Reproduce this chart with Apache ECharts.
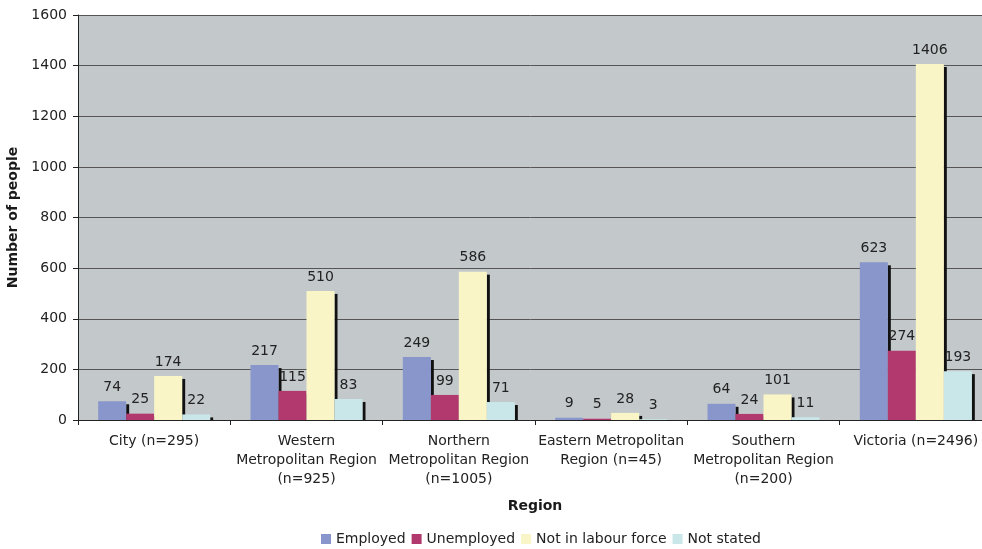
<!DOCTYPE html>
<html>
<head>
<meta charset="utf-8">
<script src="https://cdn.jsdelivr.net/npm/echarts@6/dist/echarts.min.js"></script>
<style>
  html, body { margin: 0; padding: 0; background: #fff; }
  #chart { width: 982px; height: 549px; }
</style>
</head>
<body>
<div id="chart"></div>
<script>
// Labour force status of people by region
const regions = [
  'City (n=295)',
  'Western\nMetropolitan Region\n(n=925)',
  'Northern\nMetropolitan Region\n(n=1005)',
  'Eastern Metropolitan\nRegion (n=45)',
  'Southern\nMetropolitan Region\n(n=200)',
  'Victoria (n=2496)'
];
const seriesNames = ['Employed', 'Unemployed', 'Not in labour force', 'Not stated'];
const employed = [74, 217, 249, 9, 64, 623];
const unemployed = [25, 115, 99, 5, 24, 274];
const notInLabourForce = [174, 510, 586, 28, 101, 1406];
const notStated = [22, 83, 71, 3, 11, 193];
const yTicks = [0, 200, 400, 600, 800, 1000, 1200, 1400, 1600];

const colors = ['#8896CB', '#B2396E', '#FAF5C6', '#C9E7E8'];
const allValues = [employed, unemployed, notInLabourForce, notStated];
const BAR_W = 28;
const FONT = 'Verdana, "DejaVu Sans", sans-serif';
const TEXT = '#222';

const chart = echarts.init(document.getElementById('chart'));

// Dark edge drawn behind each bar's right side; the next bar in the group hides it
const shadowData = regions.map((_, i) => [i].concat(allValues.map(a => a[i])));

const barSeries = seriesNames.map((name, s) => ({
  name: name,
  type: 'bar',
  data: allValues[s],
  barWidth: BAR_W,
  barGap: '0%',
  z: 3,
  itemStyle: { color: colors[s] },
  label: {
    show: true,
    position: 'top',
    distance: 7,
    color: TEXT,
    fontFamily: FONT,
    fontSize: 14
  }
}));

const option = {
  animation: false,
  grid: {
    left: 78, top: 15, width: 914, height: 405,
    outerBoundsMode: 'none', containLabel: false,
    show: true, backgroundColor: '#C3C8CB', borderWidth: 0
  },
  legend: {
    top: 527,
    left: 316,
    itemWidth: 10,
    itemHeight: 10,
    itemGap: 6,
    icon: 'rect',
    data: seriesNames,
    textStyle: { fontFamily: FONT, fontSize: 14, color: TEXT }
  },
  xAxis: {
    type: 'category',
    data: regions,
    name: 'Region',
    nameLocation: 'middle',
    nameGap: 79,
    nameTextStyle: { fontFamily: FONT, fontSize: 14, fontWeight: 'bold', color: '#1a1a1a' },
    axisLine: { lineStyle: { color: '#222', width: 1 } },
    axisTick: { show: true, length: 5, lineStyle: { color: '#222' } },
    axisLabel: { fontFamily: FONT, fontSize: 14, color: TEXT, lineHeight: 19, margin: 12, interval: 0 }
  },
  yAxis: {
    type: 'value',
    min: 0,
    max: 1600,
    interval: 200,
    name: 'Number of people',
    nameLocation: 'middle',
    nameGap: 50,
    nameTextStyle: { fontFamily: FONT, fontSize: 14, fontWeight: 'bold', color: '#1a1a1a' },
    axisLine: { show: true, lineStyle: { color: '#222', width: 1 } },
    axisTick: { show: true, length: 5, lineStyle: { color: '#222' } },
    axisLabel: {
      fontFamily: FONT, fontSize: 14, color: TEXT, margin: 11,
      formatter: v => (yTicks.indexOf(v) >= 0 ? String(v) : '')
    },
    splitLine: { show: true, lineStyle: { color: '#555', width: 1 } }
  },
  series: [
    {
      type: 'custom',
      name: 'edge',
      z: 2,
      silent: true,
      legendHoverLink: false,
      data: shadowData,
      encode: { x: 0, y: 3 },
      renderItem: function (params, api) {
        const i = api.value(0);
        const base = api.coord([i, 0]);
        const children = [];
        for (let s = 0; s < seriesNames.length; s++) {
          const top = api.coord([i, api.value(s + 1)]);
          const x = base[0] - (BAR_W * seriesNames.length) / 2 + BAR_W * (s + 1);
          const y = top[1] + 3;
          const h = base[1] - y;
          if (h > 0) {
            children.push({
              type: 'rect',
              shape: { x: x, y: y, width: 3, height: h },
              style: { fill: '#111' }
            });
          }
        }
        return { type: 'group', children: children };
      }
    }
  ].concat(barSeries)
};

chart.setOption(option);
</script>
</body>
</html>
